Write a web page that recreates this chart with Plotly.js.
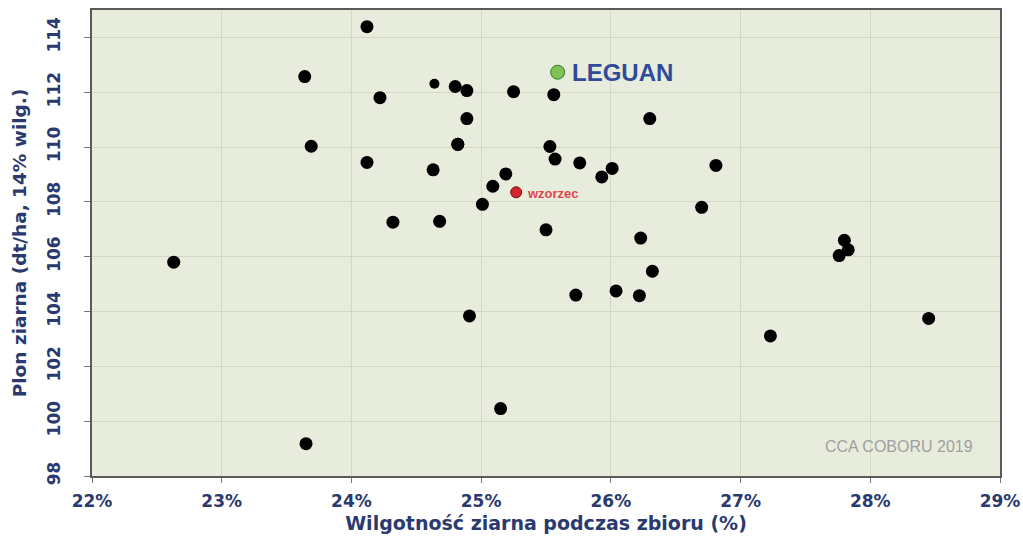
<!DOCTYPE html>
<html><head><meta charset="utf-8">
<script src="https://cdn.plot.ly/plotly-3.0.1.min.js"></script>
<style>html,body{margin:0;padding:0;background:#fff}#chart{width:1023px;height:544px}</style>
</head><body><div id="chart"></div>
<script>
// Wilgotność ziarna (%) and plon (dt/ha) of tested varieties
const moisture = [22.63, 23.65, 23.64, 23.69, 24.12, 24.12, 24.22, 24.32, 24.82, 24.63, 24.68,
  24.80, 24.82, 24.89, 24.89, 24.91, 25.01, 25.09, 25.19, 25.15, 25.25, 25.50, 25.53, 25.56,
  25.57, 25.76, 25.73, 25.93, 26.01, 26.04, 26.22, 26.23, 26.30, 26.32, 26.70, 26.81, 27.23,
  27.80, 27.83, 27.76, 28.45];
const yieldVals = [105.80, 99.18, 112.57, 110.03, 114.39, 109.44, 111.80, 107.26, 110.10, 109.17, 107.29,
  112.21, 110.10, 112.06, 111.04, 103.84, 107.91, 108.57, 109.02, 100.46, 112.02, 106.98, 110.02, 111.91,
  109.56, 109.42, 104.60, 108.91, 109.22, 104.75, 104.58, 106.68, 111.04, 105.47, 107.80, 109.33, 103.11,
  106.60, 106.25, 106.04, 103.75];
// small-dot variety
const smallX = [24.64];
const smallY = [112.31];
// highlighted points
const leguanX = [25.59], leguanY = [112.73], leguanName = ['LEGUAN'];
const wzorzecX = [25.27], wzorzecY = [108.35], wzorzecName = ['wzorzec'];
const xTicks = [22, 23, 24, 25, 26, 27, 28, 29];
const xTickText = ['22%', '23%', '24%', '25%', '26%', '27%', '28%', '29%'];
const yTicks = [98, 100, 102, 104, 106, 108, 110, 112, 114];

const navy = '#2a3a6e';
const boldFont = 'DejaVu Sans, sans-serif';
const traces = [
  {x: moisture, y: yieldVals, mode: 'markers', type: 'scatter',
   marker: {color: '#000', size: 13}},
  {x: smallX, y: smallY, mode: 'markers', type: 'scatter',
   marker: {color: '#000', size: 10}},
  {x: wzorzecX, y: wzorzecY, mode: 'markers', type: 'scatter',
   marker: {color: '#d3232b', size: 11, line: {color: '#7a1010', width: 1}}},
  {x: leguanX, y: leguanY, mode: 'markers', type: 'scatter',
   marker: {color: '#7cc254', size: 14, line: {color: '#3a7a2a', width: 1}}}
];

const layout = {
  width: 1023, height: 544,
  margin: {l: 92, r: 23, t: 10, b: 68},
  paper_bgcolor: '#ffffff',
  plot_bgcolor: '#e8ecdc',
  showlegend: false,
  font: {family: boldFont, color: navy},
  xaxis: {
    range: [22, 29], tickvals: xTicks, ticktext: xTickText,
    tickfont: {family: boldFont, size: 17, color: navy, weight: 700},
    showgrid: true, gridcolor: '#d3d8c6', gridwidth: 1, zeroline: false,
    showline: true, linecolor: '#5a5a5a', linewidth: 2, mirror: true,
    ticks: 'outside', ticklen: 5, tickcolor: '#777', ticklabelstandoff: 4,
    title: {text: 'Wilgotność ziarna podczas zbioru (%)', standoff: 6,
            font: {family: boldFont, size: 19, color: navy, weight: 700}}
  },
  yaxis: {
    range: [98, 115], tickvals: yTicks, tickangle: -90,
    tickfont: {family: boldFont, size: 17, color: navy, weight: 700},
    showgrid: true, gridcolor: '#d3d8c6', gridwidth: 1, zeroline: false,
    showline: true, linecolor: '#5a5a5a', linewidth: 2, mirror: true,
    ticks: 'outside', ticklen: 6, tickcolor: '#777', ticklabelstandoff: 17,
    title: {text: 'Plon ziarna (dt/ha, 14% wilg.)', standoff: 13,
            font: {family: boldFont, size: 18.5, color: navy, weight: 700}}
  },
  annotations: [
    {x: leguanX[0], y: leguanY[0], xref: 'x', yref: 'y', xanchor: 'left', yanchor: 'middle',
     xshift: 12, text: leguanName[0], showarrow: false,
     font: {family: 'Liberation Sans, Arial, sans-serif', size: 24, color: '#2f4b9a', weight: 700}},
    {x: wzorzecX[0], y: wzorzecY[0], xref: 'x', yref: 'y', xanchor: 'left', yanchor: 'middle',
     xshift: 9, yshift: -1, text: wzorzecName[0], showarrow: false,
     font: {family: 'Liberation Sans, Arial, sans-serif', size: 13, color: '#e0464c', weight: 700}},
    {xref: 'paper', yref: 'paper', x: 0.973, y: 0.063, xanchor: 'right', yanchor: 'middle',
     text: 'CCA COBORU 2019', showarrow: false,
     font: {size: 16, color: '#a0a0a0', family: 'Liberation Sans, Arial, sans-serif'}}
  ]
};
Plotly.newPlot('chart', traces, layout, {displayModeBar: false, staticPlot: true});
</script></body></html>
